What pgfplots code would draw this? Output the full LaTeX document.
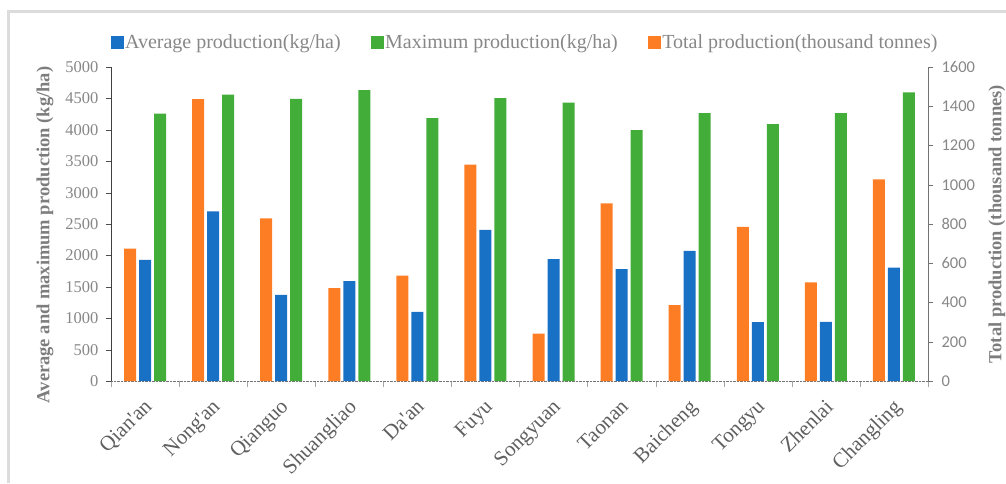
\documentclass[border=0pt]{standalone}
\usepackage{fontspec}
\setmainfont{Liberation Serif}
\newfontfamily\carlito{Carlito}
\newfontfamily\serifnolig{Liberation Serif}[Ligatures=TeXOff]
\usepackage{pgfplots}
\usepackage{pgfplotstable}
\pgfplotsset{compat=1.18}
\definecolor{cblue}{RGB}{25,113,197}
\definecolor{cgreen}{RGB}{67,173,57}
\definecolor{corange}{RGB}{253,125,36}
\definecolor{tgray}{RGB}{135,135,135}
\definecolor{xgray}{RGB}{95,95,95}
\definecolor{lgray}{RGB}{125,125,125}
\definecolor{framegray}{RGB}{220,220,220}

\pgfplotstableread{
cat avg max total
0 1928 4259 674
1 2702 4561 1436
2 1372 4492 829
3 1589 4630 473
4 1101 4185 537
5 2405 4503 1102
6 1939 4434 241
7 1780 3994 905
8 2071 4264 387
9 938 4089 785
10 943 4264 503
11 1806 4598 1027
}\datatable

\begin{document}
\begin{tikzpicture}
\useasboundingbox (-111pt,-102pt) rectangle (895pt,381pt);
\draw[line width=3pt, color=framegray] (-102.5pt,-102pt) -- (-102.5pt,369pt) -- (895pt,369pt);
\begin{axis}[
  at={(0pt,0pt)}, anchor=south west,
  scale only axis, width=817pt, height=314pt,
  xmin=-0.5, xmax=11.5, ymin=0, ymax=5000,
  axis x line*=bottom, axis y line*=left,
  ybar, bar width=12pt,
  xtick={0,...,11},
  xticklabels={Qian'an,Nong'an,Qianguo,Shuangliao,Da'an,Fuyu,Songyuan,Taonan,Baicheng,Tongyu,Zhenlai,Changling},
  minor xtick={-0.5,0.5,...,11.5},
  major x tick style={draw=none},
  minor x tick style={draw=black!35},
  minor tick length=6pt,
  major tick length=5pt,
  tick align=outside,
  ytick={0,500,...,5000},
  ytick style={black!70},
  x axis line style={densely dotted, black!55},
  y axis line style={black!75},
  scaled y ticks=false,
  /pgf/number format/1000 sep={},
  /pgf/number format/assume math mode=true,
  yticklabel style={xshift=-4pt, font=\fontsize{16.5}{16.5}\selectfont, text=tgray},
  xticklabel style={xshift=-2pt, yshift=-7pt, rotate=45, anchor=north east, font=\serifnolig\fontsize{21}{21}\selectfont, text=xgray},
  ylabel={Average and maximum production (kg/ha)},
  ylabel style={at={(axis description cs:-0.0808,0.465)}, anchor=center, font=\bfseries\fontsize{18.5}{18.5}\selectfont, text=lgray},
  legend columns=3,
  legend style={at={(axis description cs:0,1)}, anchor=west, yshift=25pt, draw=none, fill=none, inner sep=0pt,
    font=\fontsize{20}{20}\selectfont, text=tgray, nodes={inner sep=1.5pt},
    /tikz/every even column/.append style={column sep=29pt}},
  legend cell align=left,
]
\addplot[forget plot, fill=cblue, draw=none, bar shift=0pt] table[x=cat, y=avg] {\datatable};
\addplot[forget plot, fill=cgreen, draw=none, bar shift=15pt] table[x=cat, y=max] {\datatable};
\addlegendimage{legend image code/.code={\fill[cblue] (0pt,-6pt) rectangle (12pt,6pt);}}
\addlegendentry{Average production(kg/ha)}
\addlegendimage{legend image code/.code={\fill[cgreen] (0pt,-6pt) rectangle (12pt,6pt);}}
\addlegendentry{Maximum production(kg/ha)}
\addlegendimage{legend image code/.code={\fill[corange] (0pt,-6pt) rectangle (12pt,6pt);}}
\addlegendentry{Total production(thousand tonnes)}
\end{axis}
\begin{axis}[
  at={(0pt,0pt)}, anchor=south west,
  scale only axis, width=817pt, height=314pt,
  xmin=-0.5, xmax=11.5, ymin=0, ymax=1600,
  hide x axis, axis y line*=right,
  ybar, bar width=12pt,
  ytick={0,200,...,1600},
  tick align=outside, major tick length=5pt,
  ytick style={black!55},
  y axis line style={black!55},
  scaled y ticks=false,
  /pgf/number format/1000 sep={},
  /pgf/number format/assume math mode=true,
  yticklabel style={xshift=5pt, font=\carlito\fontsize{16.5}{16.5}\selectfont, text=tgray},
  ylabel={Total production (thousand tonnes)},
  ylabel style={at={(axis description cs:1.0845,0.5)}, anchor=center, rotate=0, font=\bfseries\fontsize{18.5}{18.5}\selectfont, text=lgray},
]
\addplot[fill=corange, draw=none, bar shift=-15pt] table[x=cat, y=total] {\datatable};
\end{axis}
\end{tikzpicture}
\end{document}
